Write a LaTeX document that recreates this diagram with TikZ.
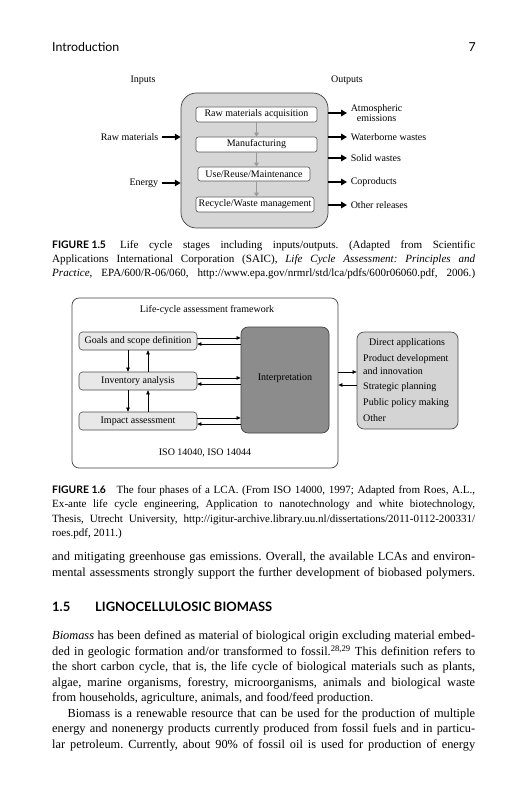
\documentclass[tikz,border=0pt]{standalone}
\usepackage{fontspec}
\setmainfont{Liberation Serif}
\newfontfamily\hsans{Lato}
\usetikzlibrary{arrows.meta,fit}
\newlength\tw \setlength\tw{359.5pt}
\newcommand\jl[3]{\node[anchor=west,inner sep=0pt] (#1) at (52,#2) {\makebox[\tw][s]{#3}};}
\newcommand\pl[3]{\node[anchor=west,inner sep=0pt] (#1) at (52,#2) {#3};}
\frenchspacing
\begin{document}
\begin{tikzpicture}[x=0.85pt,y=-0.85pt,
  bodyfont/.style={font=\fontsize{10.5}{13}\selectfont},
  capfont/.style={font=\fontsize{9.4}{12}\selectfont},
  figfont/.style={font=\fontsize{8.5}{10}\selectfont},
  bigbox/.style={draw=black!75,fill=black!16,rounded corners=13pt,line width=0.6pt,inner sep=0pt},
  stagebox/.style={draw=black!65,fill=white,rounded corners=2pt,line width=0.5pt,inner sep=0pt},
  grayarr/.style={draw=black!40,line width=1pt,-{Triangle[length=3.5pt,width=4pt]}},
  bigarr/.style={line width=1.6pt,-{Triangle[length=5pt,width=5.5pt]}},
  thinarr/.style={line width=0.6pt,-{Triangle[length=3.5pt,width=3pt]}},
  lbox/.style={draw=black!70,fill=black!9,rounded corners=3pt,line width=0.5pt,inner sep=0pt},
  outerbox/.style={draw=black!75,fill=white,rounded corners=6pt,line width=0.6pt,inner sep=0pt},
  interpbox/.style={draw=black!75,fill=black!45,rounded corners=6pt,line width=0.6pt,inner sep=0pt},
  appbox/.style={draw=black!70,fill=black!17,rounded corners=6pt,line width=0.6pt,inner sep=0pt},
  lab/.style={figfont,inner sep=0pt}
]
\useasboundingbox (0,0) rectangle (528,800);

% header
\node[anchor=west,inner sep=0pt,font=\hsans\fontsize{10.5}{12}\selectfont] (hdr) at (52,47) {Introduction};
\node[anchor=east,inner sep=0pt,font=\hsans\fontsize{10.5}{12}\selectfont] (pg) at (476,47) {7};

% ---------------- Figure 1.5
\node[lab] (inputs) at (143,80) {Inputs};
\node[lab] (outputs) at (347,80) {Outputs};
\node[bigbox,fit={(181,93) (328,228)}] (big) {};
\node[stagebox,fit={(196,107) (317,122)}] (s1) {};
\node[stagebox,fit={(196,137) (317,152)}] (s2) {};
\node[stagebox,fit={(198,167) (310,181)}] (s3) {};
\node[stagebox,fit={(196,197) (314,212)}] (s4) {};
\node[lab] (s1t) at (s1.center) {Raw materials acquisition};
\node[lab] (s2t) at (s2.center) {Manufacturing};
\node[lab] (s3t) at (s3.center) {Use/Reuse/Maintenance};
\node[lab] (s4t) at (s4.center) {Recycle/Waste management};
\draw[grayarr] (s1.south) -- (s1.south |- s2.north);
\draw[grayarr] (s1.south |- s2.south) -- (s1.south |- s3.north);
\draw[grayarr] (s1.south |- s3.south) -- (s1.south |- s4.north);

\node[lab,anchor=east,inner xsep=3pt] (rawin) at (162,137) {Raw materials};
\node[lab,anchor=east,inner xsep=3pt] (enin) at (162,183) {Energy};
\draw[bigarr] (rawin.east) -- (rawin.east -| big.west);
\draw[bigarr] (enin.east) -- (enin.east -| big.west);

\node[lab,anchor=west,inner xsep=3pt,align=center] (o1) at (347,113) {Atmospheric\\[-1pt]emissions};
\node[lab,anchor=west,inner xsep=3pt] (o2) at (347,137) {Waterborne wastes};
\node[lab,anchor=west,inner xsep=3pt] (o3) at (347,158) {Solid wastes};
\node[lab,anchor=west,inner xsep=3pt] (o4) at (347,182) {Coproducts};
\node[lab,anchor=west,inner xsep=3pt] (o5) at (347,205) {Other releases};
\foreach \o in {o1,o2,o3,o4,o5}{\draw[bigarr] (\o.west -| big.east) -- (\o.west);}

% caption 1.5
\begin{scope}[capfont]
\jl{c1a}{245.5}{\mbox{\hsans\bfseries\fontsize{8.8}{10}\selectfont FIGURE 1.5}\hspace{3pt} Life cycle stages including inputs/outputs. (Adapted from Scientific}
\jl{c1b}{259.5}{Applications International Corporation (SAIC), \textit{Life Cycle Assessment: Principles and}}
\jl{c1c}{273.5}{\textit{Practice}, EPA/600/R-06/060, http://www.epa.gov/nrmrl/std/lca/pdfs/600r06060.pdf, 2006.)}
\end{scope}

% ---------------- Figure 1.6
\node[outerbox,fit={(72,298) (338,468)}] (outer) {};
\node[lab] (fwtitle) at (207,310) {Life-cycle assessment framework};
\node[lbox,fit={(79,332) (197,350)}] (goal) {};
\node[lbox,fit={(79,372) (197,390)}] (inv) {};
\node[lbox,fit={(79,412) (197,430)}] (imp) {};
\node[lab] (goalt) at (goal.center) {Goals and scope definition};
\node[lab] (invt) at (inv.center) {Inventory analysis};
\node[lab] (impt) at (imp.center) {Impact assessment};
\node[interpbox,fit={(241,327) (329,433)}] (interp) {};
\node[lab] (interpt) at (285,378) {Interpretation};
\node[lab] (iso) at (205,453) {ISO 14040, ISO 14044};

\coordinate (dx) at (128,0);
\coordinate (ux) at (148,0);
\draw[thinarr] (goal.south -| dx) -- (inv.north -| dx);
\draw[thinarr] (inv.north -| ux) -- (goal.south -| ux);
\draw[thinarr] (inv.south -| dx) -- (imp.north -| dx);
\draw[thinarr] (imp.north -| ux) -- (inv.south -| ux);

\foreach \b in {goal,inv,imp}{
  \draw[thinarr] ([yshift=2.6pt]\b.east) -- ([yshift=2.6pt]\b.east -| interp.west);
  \draw[thinarr] ([yshift=-2.6pt]\b.east -| interp.west) -- ([yshift=-2.6pt]\b.east);
}

\node[appbox,fit={(357,332) (458,429)}] (app) {};
\node[lab] (apptitle) at (407,343) {Direct applications};
\node[lab,anchor=west] (a1) at (363,359) {Product development};
\node[lab,anchor=west] (a2) at (363,371) {and innovation};
\node[lab,anchor=west] (a3) at (363,387) {Strategic planning};
\node[lab,anchor=west] (a4) at (363,403) {Public policy making};
\node[lab,anchor=west] (a5) at (363,418) {Other};
\coordinate (ar1) at (0,372);
\coordinate (ar2) at (0,385);
\draw[thinarr] (outer.east |- ar1) -- (app.west |- ar1);
\draw[thinarr] (app.west |- ar2) -- (outer.east |- ar2);

% caption 1.6
\begin{scope}[capfont]
\jl{c2a}{490.5}{\mbox{\hsans\bfseries\fontsize{8.8}{10}\selectfont FIGURE 1.6}\hspace{6pt} The four phases of a LCA. (From ISO 14000, 1997; Adapted from Roes, A.L.,}
\jl{c2b}{505}{Ex-ante life cycle engineering, Application to nanotechnology and white biotechnology,}
\jl{c2c}{519.5}{Thesis, Utrecht University, http://igitur-archive.library.uu.nl/dissertations/2011-0112-200331/}
\pl{c2d}{534}{roes.pdf, 2011.)}
\end{scope}

% body
\begin{scope}[bodyfont]
\jl{b1}{558}{and mitigating greenhouse gas emissions. Overall, the available LCAs and environ-}
\jl{b2}{573.5}{mental assessments strongly support the further development of biobased polymers.}
\node[anchor=west,inner sep=0pt,font=\hsans\bfseries\fontsize{11}{13}\selectfont] (h1) at (52,607) {1.5};
\node[anchor=west,inner sep=0pt,font=\hsans\bfseries\fontsize{11}{13}\selectfont] (h2) at (95,607) {LIGNOCELLULOSIC BIOMASS};
\jl{b3}{636.5}{\textit{Biomass} has been defined as material of biological origin excluding material embed-}
\jl{b4}{652}{ded in geologic formation and/or transformed to fossil.\textsuperscript{28,29} This definition refers to}
\jl{b5}{667.5}{the short carbon cycle, that is, the life cycle of biological materials such as plants,}
\jl{b6}{683}{algae, marine organisms, forestry, microorganisms, animals and biological waste}
\pl{b7}{698.5}{from households, agriculture, animals, and food/feed production.}
\jl{b8}{714}{\hspace*{13pt}Biomass is a renewable resource that can be used for the production of multiple}
\jl{b9}{729.5}{energy and nonenergy products currently produced from fossil fuels and in particu-}
\jl{b10}{745}{lar petroleum. Currently, about 90\% of fossil oil is used for production of energy}
\end{scope}
\end{tikzpicture}
\end{document}
